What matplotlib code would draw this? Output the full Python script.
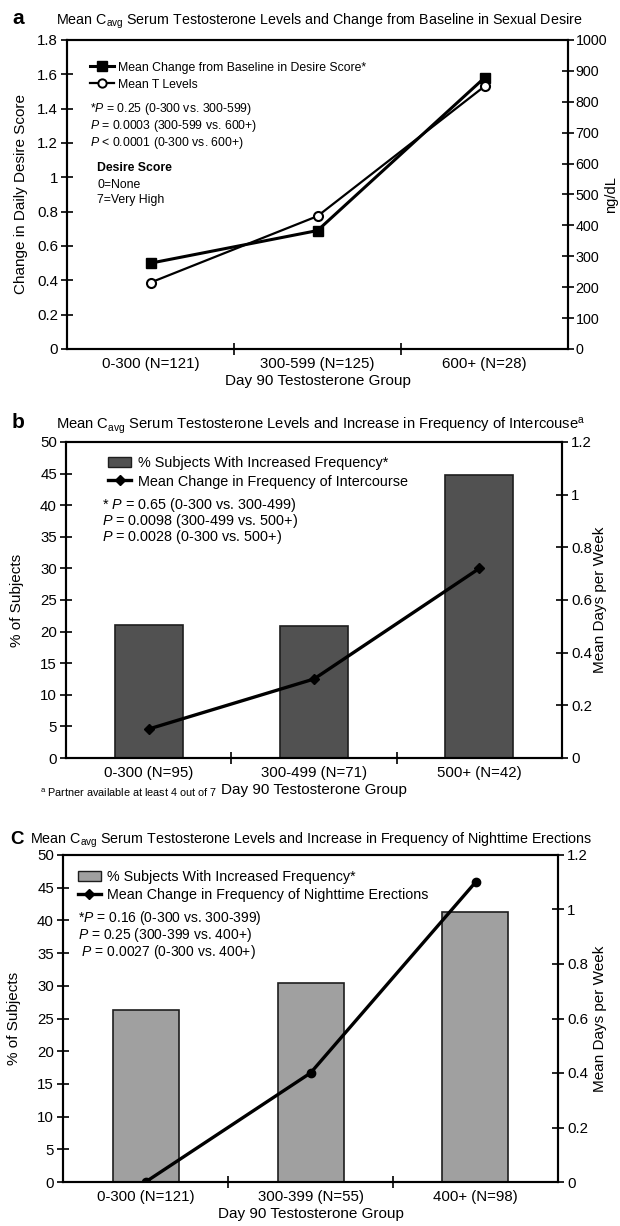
import matplotlib
matplotlib.use("Agg")
import matplotlib.pyplot as plt
from matplotlib.ticker import MultipleLocator, FuncFormatter
from matplotlib.lines import Line2D
from matplotlib.patches import Patch

plt.rcParams['font.family'] = ['Liberation Sans', 'DejaVu Sans']
plt.rcParams['mathtext.fontset'] = 'custom'
plt.rcParams['mathtext.rm'] = 'Liberation Sans'
plt.rcParams['mathtext.it'] = 'Liberation Sans:italic'
plt.rcParams['mathtext.bf'] = 'Liberation Sans:bold'

# ---------------- data ----------------
groups_a = ['0-300 (N=121)', '300-599 (N=125)', '600+ (N=28)']
desire_change = [0.50, 0.69, 1.58]
mean_t_levels = [215, 430, 850]

groups_b = ['0-300 (N=95)', '300-499 (N=71)', '500+ (N=42)']
pct_intercourse = [21.0, 20.9, 44.8]
days_intercourse = [0.11, 0.30, 0.72]

groups_c = ['0-300 (N=121)', '300-399 (N=55)', '400+ (N=98)']
pct_erections = [26.3, 30.5, 41.3]
days_erections = [0.0, 0.40, 1.10]

p_text_a = ['*$P$ = 0.25 (0-300 vs. 300-599)',
            '$P$ = 0.0003 (300-599 vs. 600+)',
            '$P$ < 0.0001 (0-300 vs. 600+)']
p_text_b = ['* $P$ = 0.65 (0-300 vs. 300-499)',
            '$P$ = 0.0098 (300-499 vs. 500+)',
            '$P$ = 0.0028 (0-300 vs. 500+)']
p_text_c = ['*$P$ = 0.16 (0-300 vs. 300-399)',
            '$P$ = 0.25 (300-399 vs. 400+)',
            ' $P$ = 0.0027 (0-300 vs. 400+)']

W, H = 620, 1226
fig = plt.figure(figsize=(W / 100, H / 100), dpi=100)

TICK_FS = 10.8
LAB_FS = 11


def add_axes(left, right, top, bottom):
    return fig.add_axes([left / W, 1 - bottom / H, (right - left) / W, (bottom - top) / H])


def fmt(v, pos):
    return '%g' % round(v, 3)


def style_axes(ax, ax2, labels):
    for a in (ax, ax2):
        for s in a.spines.values():
            s.set_linewidth(1.5)
    ax.set_xlim(0, 3)
    ax.set_xticks([0.5, 1.5, 2.5])
    ax.set_xticklabels(labels, fontsize=TICK_FS)
    ax.set_xticks([1, 2], minor=True)
    ax.tick_params(axis='x', which='major', length=0, pad=6)
    ax.tick_params(axis='x', which='minor', direction='inout', length=9, width=1.2)
    ax.tick_params(axis='y', direction='inout', length=9, width=1.2, labelsize=TICK_FS, pad=2)
    ax2.tick_params(axis='y', direction='inout', length=9, width=1.2, labelsize=TICK_FS, pad=2)
    ax.yaxis.set_major_formatter(FuncFormatter(fmt))
    ax2.yaxis.set_major_formatter(FuncFormatter(fmt))


xs = [0.5, 1.5, 2.5]

# ---------------- panel a ----------------
FS_A = 8.8
axa = add_axes(67, 568, 40, 349)
axa2 = axa.twinx()
axa.set_ylim(0, 1.8)
axa.yaxis.set_major_locator(MultipleLocator(0.2))
axa2.set_ylim(0, 1000)
axa2.yaxis.set_major_locator(MultipleLocator(100))
style_axes(axa, axa2, groups_a)
axa2.tick_params(axis='y', labelsize=10.3, pad=1)
axa.plot(xs, desire_change, color='black', lw=2.2, marker='s', ms=7.5,
         mfc='black', mec='black', zorder=3)
axa2.plot(xs, mean_t_levels, color='black', lw=1.6, marker='o', ms=6.5,
          mfc='white', mec='black', mew=1.5, zorder=3)
axa.set_ylabel('Change in Daily Desire Score', fontsize=LAB_FS)
axa.yaxis.set_label_coords(-0.078, 0.5)
axa2.set_ylabel('ng/dL', fontsize=10.5, rotation=90)
axa2.yaxis.set_label_coords(1.072, 0.5)
axa.set_xlabel('Day 90 Testosterone Group', fontsize=LAB_FS, labelpad=2)
h1 = Line2D([], [], color='black', lw=2.2, marker='s', ms=6.5, mfc='black')
h2 = Line2D([], [], color='black', lw=1.6, marker='o', ms=6, mfc='white', mew=1.4)
axa.legend([h1, h2], ['Mean Change from Baseline in Desire Score*', 'Mean T Levels'],
           loc='upper left', bbox_to_anchor=(0.045, 0.93), frameon=False,
           fontsize=FS_A, handlelength=2.0, handletextpad=0.35, labelspacing=0.4,
           borderpad=0, borderaxespad=0)
for i, t in enumerate(p_text_a):
    axa.text(0.045, 0.777 - i * 0.055, t, transform=axa.transAxes, fontsize=FS_A, va='center')
axa.text(0.06, 0.585, 'Desire Score', transform=axa.transAxes, fontsize=FS_A,
         va='center', weight='bold')
axa.text(0.06, 0.532, '0=None', transform=axa.transAxes, fontsize=FS_A, va='center')
axa.text(0.06, 0.482, '7=Very High', transform=axa.transAxes, fontsize=FS_A, va='center')
fig.text(12 / W, 1 - 19 / H, 'a', fontsize=15, weight='bold', va='center')
fig.text(56 / W, 1 - 21 / H,
         r'Mean C$_\mathregular{avg}$ Serum Testosterone Levels and Change from Baseline in Sexual Desire',
         fontsize=10.3, va='center')

# ---------------- panel b ----------------
FS_B = 10.4
axb = add_axes(66, 562, 442, 758)
axb2 = axb.twinx()
axb.set_ylim(0, 50)
axb.yaxis.set_major_locator(MultipleLocator(5))
axb2.set_ylim(0, 1.2)
axb2.yaxis.set_major_locator(MultipleLocator(0.2))
style_axes(axb, axb2, groups_b)
axb.bar(xs, pct_intercourse, width=0.41, color='#515151', edgecolor='#1e1e1e', lw=1.2, zorder=2)
axb2.plot(xs, days_intercourse, color='black', lw=2.4, marker='D', ms=5, zorder=3)
axb.set_ylabel('% of Subjects', fontsize=LAB_FS)
axb.yaxis.set_label_coords(-0.085, 0.5)
axb2.set_ylabel('Mean Days per Week', fontsize=LAB_FS, rotation=90)
axb2.yaxis.set_label_coords(1.063, 0.5)
axb.set_xlabel('Day 90 Testosterone Group', fontsize=LAB_FS, labelpad=2)
hb1 = Patch(facecolor='#515151', edgecolor='#1e1e1e')
hb2 = Line2D([], [], color='black', lw=2.4, marker='D', ms=5)
axb.legend([hb1, hb2], ['% Subjects With Increased Frequency*',
                        'Mean Change in Frequency of Intercourse'],
           loc='upper left', bbox_to_anchor=(0.085, 0.955), frameon=False,
           fontsize=FS_B, handlelength=1.6, handletextpad=0.45, labelspacing=0.3,
           borderpad=0, borderaxespad=0)
for i, t in enumerate(p_text_b):
    axb.text(0.073, 0.80 - i * 0.05, t, transform=axb.transAxes, fontsize=FS_B, va='center')
fig.text(12 / W, 1 - 422 / H, 'b', fontsize=15, weight='bold', va='center')
fig.text(56 / W, 1 - 426 / H,
         r'Mean C$_\mathregular{avg}$ Serum Testosterone Levels and Increase in Frequency of Intercouse$^\mathregular{a}$',
         fontsize=10.6, va='center')
fig.text(40 / W, 1 - 793 / H, r'$^\mathregular{a}$ Partner available at least 4 out of 7',
         fontsize=7.8, va='center')

# ---------------- panel c ----------------
axc = add_axes(63, 558, 855, 1182)
axc2 = axc.twinx()
axc.set_ylim(0, 50)
axc.yaxis.set_major_locator(MultipleLocator(5))
axc2.set_ylim(0, 1.2)
axc2.yaxis.set_major_locator(MultipleLocator(0.2))
style_axes(axc, axc2, groups_c)
axc.bar(xs, pct_erections, width=0.40, color='#a0a0a0', edgecolor='#1e1e1e', lw=1.2, zorder=2)
axc2.plot(xs, days_erections, color='black', lw=2.4, marker='o', ms=6, zorder=3)
axc.set_ylabel('% of Subjects', fontsize=LAB_FS)
axc.yaxis.set_label_coords(-0.085, 0.5)
axc2.set_ylabel('Mean Days per Week', fontsize=LAB_FS, rotation=90)
axc2.yaxis.set_label_coords(1.07, 0.5)
axc.set_xlabel('Day 90 Testosterone Group', fontsize=LAB_FS, labelpad=2)
hc1 = Patch(facecolor='#a0a0a0', edgecolor='#1e1e1e')
hc2 = Line2D([], [], color='black', lw=2.4, marker='D', ms=5)
axc.legend([hc1, hc2], ['% Subjects With Increased Frequency*',
                        'Mean Change in Frequency of Nighttime Erections'],
           loc='upper left', bbox_to_anchor=(0.03, 0.955), frameon=False,
           fontsize=10.3, handlelength=1.6, handletextpad=0.45, labelspacing=0.3,
           borderpad=0, borderaxespad=0)
for i, t in enumerate(p_text_c):
    axc.text(0.03, 0.807 - i * 0.052, t, transform=axc.transAxes, fontsize=10.0, va='center')
fig.text(10 / W, 1 - 839 / H, 'C', fontsize=13.5, weight='bold', va='center')
fig.text(30 / W, 1 - 840 / H,
         r'Mean C$_\mathregular{avg}$ Serum Testosterone Levels and Increase in Frequency of Nighttime Erections',
         fontsize=10.25, va='center')

fig.savefig('out.png', dpi=100)
